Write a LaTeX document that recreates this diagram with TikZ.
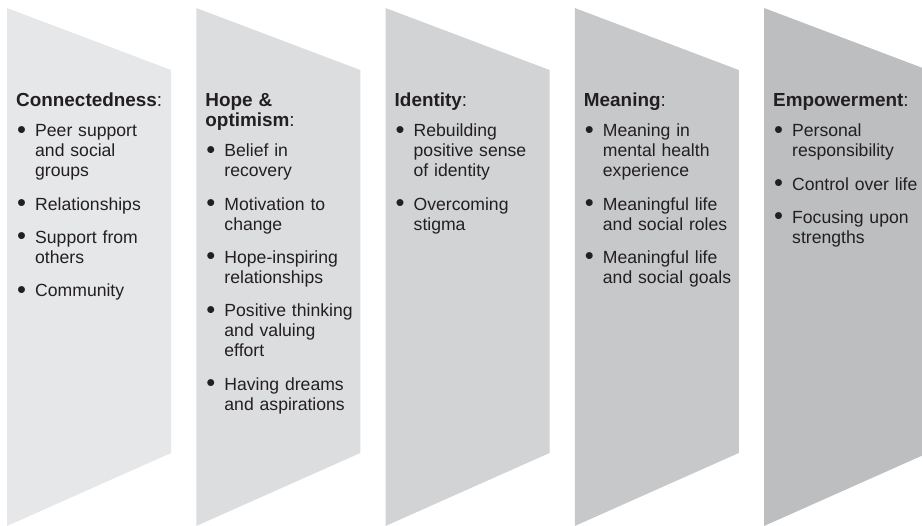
\documentclass[tikz,border=0pt]{standalone}
\usepackage{fontspec}
\setmainfont{Liberation Sans}
\usepackage{enumitem}
\usepackage{graphicx}

\definecolor{ink}{HTML}{231F20}
\definecolor{bandA}{HTML}{E6E7E8}
\definecolor{bandB}{HTML}{DCDDDE}
\definecolor{bandC}{HTML}{D1D3D4}
\definecolor{bandD}{HTML}{C7C8CA}
\definecolor{bandE}{HTML}{BCBEC0}

\tikzset{
  colbody/.style={anchor=base west, inner sep=0pt, text width=162pt, align=left,
    text=ink, font=\fontsize{17.6}{20}\selectfont},
}
\newcommand\hd[1]{{\fontsize{18.9}{20}\selectfont\textbf{#1}}}
\newcommand\hdcolon{{\fontsize{18.9}{20}\selectfont:}}
\newcommand\dotmark{\hspace{1pt}\raisebox{-1.2pt}{\scalebox{1.45}{\textbullet}}}
\newenvironment{pts}{\begin{itemize}[leftmargin=19pt,labelwidth=19pt,labelsep=0pt,
  align=left,itemsep=13.3pt,parsep=0pt,topsep=10pt,partopsep=0pt,itemindent=0pt,
  label=\dotmark]}{\end{itemize}}

\begin{document}
\begin{tikzpicture}[x=1pt,y=-1pt]
\useasboundingbox (0,0) rectangle (922,526);

% five slanted bands, growing darker to the right
\begin{scope}
  \clip (0,0) rectangle (922,526);
  \foreach \i/\c in {0/bandA,1/bandB,2/bandC,3/bandD,4/bandE} {
    \fill[\c] ({7+189.25*\i},8) -- ++(164,62) -- ++(0,383) -- ++(-164,73) -- cycle;
  }
\end{scope}

\node[colbody] (conn) at (16,107) {%
  \hd{Connectedness}\hdcolon\par
  \begin{pts}
    \item Peer support\newline and social\newline groups
    \item Relationships
    \item Support from\newline others
    \item Community
  \end{pts}};

\node[colbody] (hope) at (205.25,107) {%
  \hd{Hope \&}\newline\hd{optimism}\hdcolon\par
  \begin{pts}
    \item Belief in\newline recovery
    \item Motivation to\newline change
    \item Hope-inspiring\newline relationships
    \item Positive thinking\newline and valuing\newline effort
    \item Having dreams\newline and aspirations
  \end{pts}};

\node[colbody] (ident) at (394.5,107) {%
  \hd{Identity}\hdcolon\par
  \begin{pts}
    \item Rebuilding\newline positive sense\newline of identity
    \item Overcoming\newline stigma
  \end{pts}};

\node[colbody] (mean) at (583.75,107) {%
  \hd{Meaning}\hdcolon\par
  \begin{pts}
    \item Meaning in\newline mental health\newline experience
    \item Meaningful life\newline and social roles
    \item Meaningful life\newline and social goals
  \end{pts}};

\node[colbody] (empow) at (773,107) {%
  \hd{Empowerment}\hdcolon\par
  \begin{pts}
    \item Personal\newline responsibility
    \item Control over life
    \item Focusing upon\newline strengths
  \end{pts}};
\end{tikzpicture}
\end{document}
